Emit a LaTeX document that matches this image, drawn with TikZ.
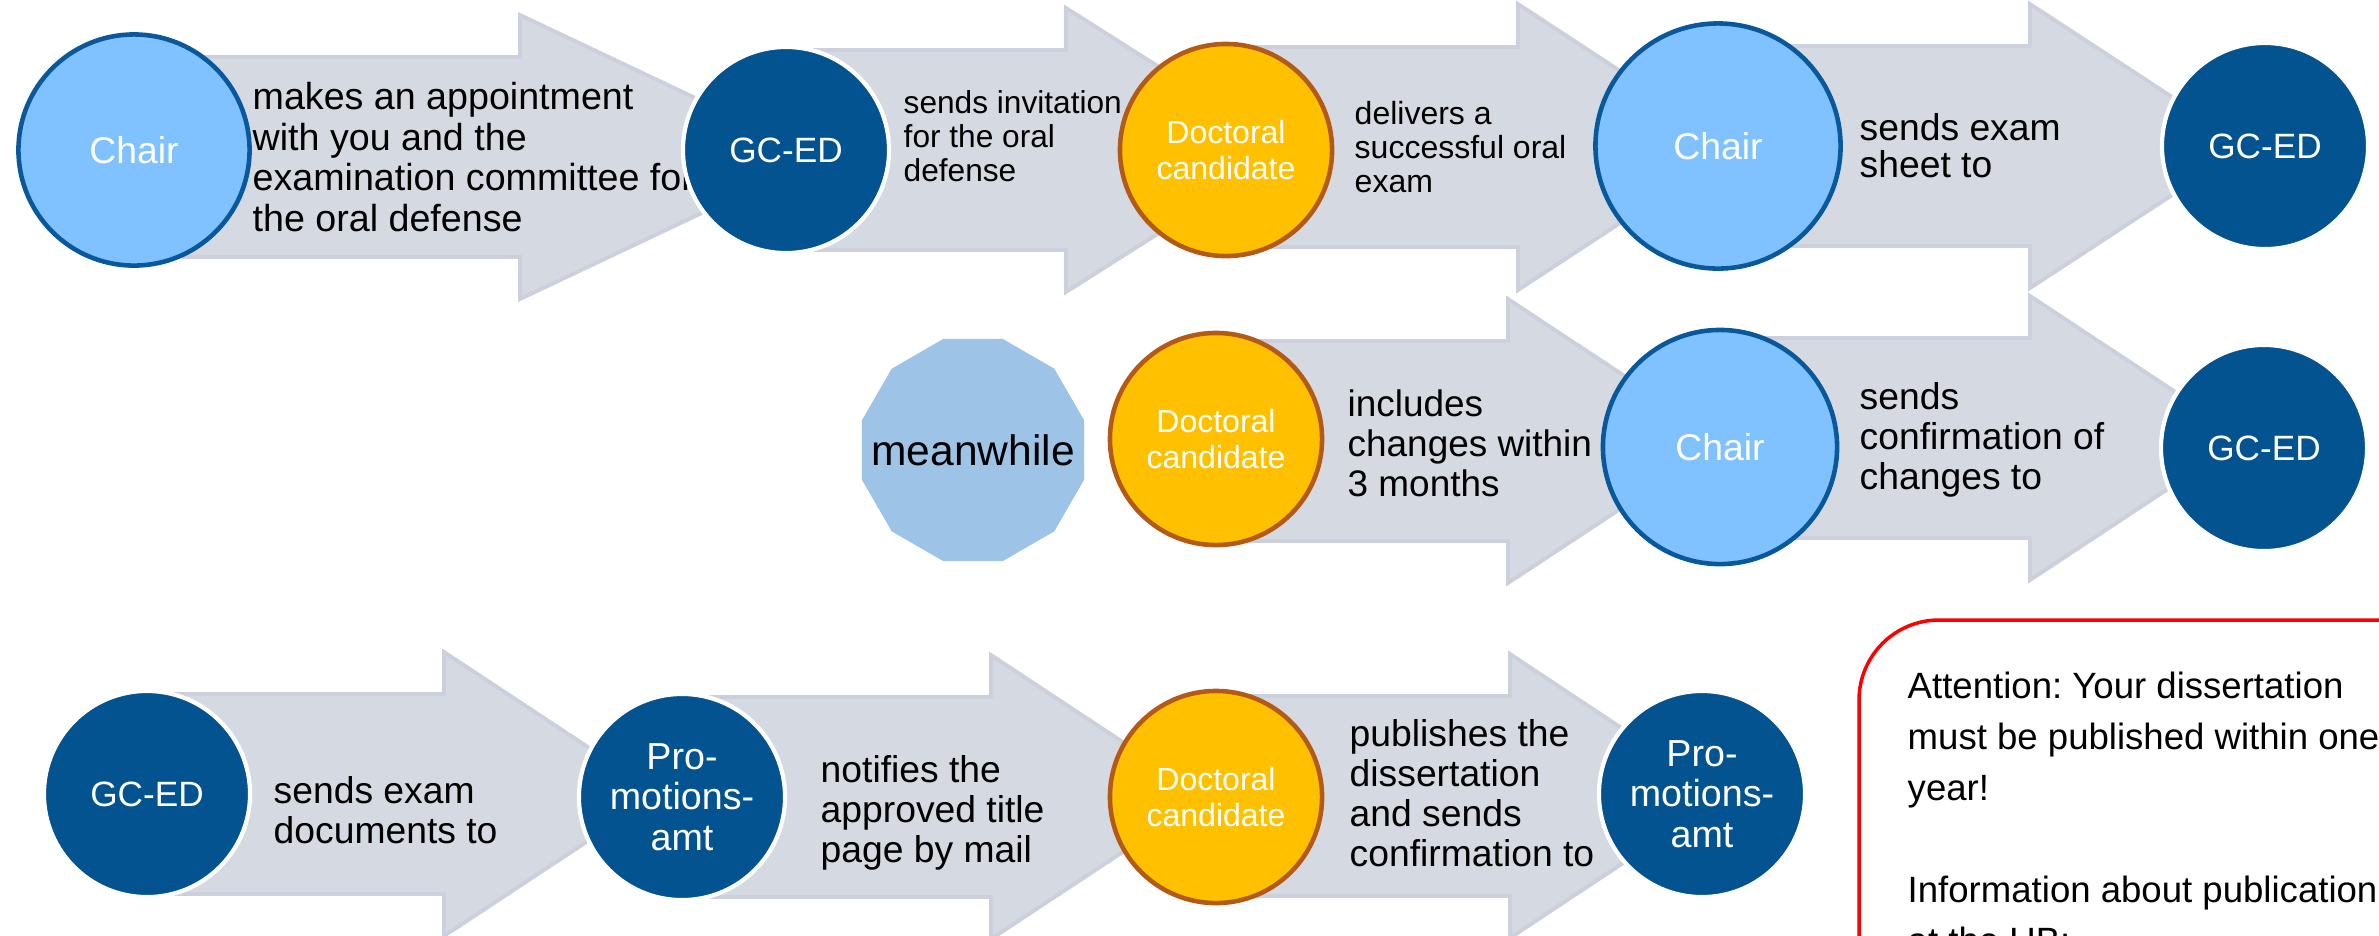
\documentclass[tikz,border=0pt]{standalone}
\usepackage{fontspec}
\setmainfont{Liberation Sans}
\frenchspacing

\definecolor{chairblue}{RGB}{128,193,255}
\definecolor{chairedge}{RGB}{8,88,155}
\definecolor{gcblue}{RGB}{3,83,145}
\definecolor{candyellow}{RGB}{255,192,0}
\definecolor{candedge}{RGB}{180,90,25}
\definecolor{arrowgray}{RGB}{213,217,225}
\definecolor{arrowedge}{RGB}{203,208,220}
\definecolor{waitblue}{RGB}{157,195,230}

\newcommand{\fsz}[2]{\fontsize{#1pt}{#2pt}\selectfont}

\begin{document}
\begin{tikzpicture}[x=0.01cm, y=-0.01cm,
    flow/.style = {fill=arrowgray, draw=arrowedge, line width=1.1pt},
    main/.style = {circle, inner sep=0pt, text=white, align=center},
    chair/.style = {main, fill=chairblue, draw=chairedge, line width=1.3pt, font=\fsz{10.6}{12}},
    gced/.style = {main, fill=gcblue, draw=white, line width=1.2pt, minimum size=2.06cm, font=\fsz{10}{12}},
    cand/.style = {main, fill=candyellow, draw=candedge, line width=1.3pt, minimum size=2.12cm, font=\fsz{9.1}{10}},
    office/.style = {gced, font=\fsz{10.7}{11.5}},
    lbl/.style = {anchor=west, align=left, inner sep=0pt, text=black}]

    \useasboundingbox (0,0) rectangle (2379,935);
    \clip (0,0) rectangle (2379,935);

    % first row
    \draw[flow] (184,57) -- (520,57) -- (520,15) -- (820,157) -- (520,299) -- (520,257) -- (184,257) -- cycle;
    \draw[flow] (800,50) -- (1066,50) -- (1066,8) -- (1290,150) -- (1066,292) -- (1066,250) -- (800,250) -- cycle;
    \draw[flow] (1230,47) -- (1518,47) -- (1518,4) -- (1736,147) -- (1518,290) -- (1518,247) -- (1230,247) -- cycle;
    \draw[flow] (1720,46) -- (2030,46) -- (2030,4) -- (2247,146) -- (2030,288) -- (2030,246) -- (1720,246) -- cycle;

    % second row
    \draw[flow] (1216,341) -- (1508,341) -- (1508,299) -- (1723,441) -- (1508,583) -- (1508,541) -- (1216,541) -- cycle;
    \draw[flow] (1720,338) -- (2030,338) -- (2030,296) -- (2245,438) -- (2030,580) -- (2030,538) -- (1720,538) -- cycle;

    % third row
    \draw[flow] (147,694) -- (444,694) -- (444,652) -- (659,794) -- (444,936) -- (444,894) -- (147,894) -- cycle;
    \draw[flow] (682,697) -- (991,697) -- (991,655) -- (1206,797) -- (991,939) -- (991,897) -- (682,897) -- cycle;
    \draw[flow] (1216,696) -- (1510,696) -- (1510,654) -- (1724,796) -- (1510,938) -- (1510,896) -- (1216,896) -- cycle;

    % texts on the arrows
    \node[lbl, font=\fsz{10.7}{11.5}] (t1) at (252,157) {makes an appointment\\with you and the\\examination committee for\\the oral defense};
    \node[lbl, font=\fsz{9}{9.7}] (t2) at (903,136) {sends invitation\\for the oral\\defense};
    \node[lbl, font=\fsz{9.1}{9.7}] (t3) at (1354,147) {delivers a\\successful oral\\exam};
    \node[lbl, font=\fsz{10.6}{10.5}] (t4) at (1859,146) {sends exam\\sheet to};
    \node[lbl, font=\fsz{10.5}{11.4}] (t5) at (1347,443) {includes\\changes within\\3 months};
    \node[lbl, font=\fsz{10.6}{11.4}] (t6) at (1859,440) {sends\\confirmation of\\changes to};
    \node[lbl, font=\fsz{10.6}{11.4}] (t7) at (273,810) {sends exam\\documents to};
    \node[lbl, font=\fsz{10.6}{11.4}] (t8) at (820,813) {notifies the\\approved title\\page by mail};
    \node[lbl, font=\fsz{10.6}{11.4}] (t9) at (1349,793) {publishes the\\dissertation\\and sends\\confirmation to};

    % actors
    \node[chair, minimum size=2.31cm] (chairA) at (134,150) {Chair};
    \node[gced] (gcedA) at (786,150) {GC-ED};
    \node[cand] (candA) at (1226,150) {Doctoral\\candidate};
    \node[chair, minimum size=2.45cm] (chairB) at (1718,146) {Chair};
    \node[gced] (gcedB) at (2265,146) {GC-ED};

    % twelve-sided patch behind "meanwhile"
    \fill[waitblue, shift={(973,450)}] (15:115) \foreach \a in {45,75,...,345} {-- (\a:115)} -- cycle;
    \node[inner sep=0pt, font=\fsz{12.1}{14}] (meanwhile) at (973,450) {meanwhile};
    \node[cand] (candB) at (1216,439) {Doctoral\\candidate};
    \node[chair, minimum size=2.34cm] (chairC) at (1720,447) {Chair};
    \node[gced] (gcedC) at (2264,448) {GC-ED};

    \node[gced] (gcedD) at (147,794) {GC-ED};
    \node[office] (promoA) at (682,797) {Pro-\\motions-\\amt};
    \node[cand] (candC) at (1216,797) {Doctoral\\candidate};
    \node[office] (promoB) at (1702,794) {Pro-\\motions-\\amt};

    % attention box
    \draw[red, line width=1pt, rounded corners=0.8cm] (1859,620) rectangle (2500,1100);
    \node[anchor=north west, align=left, inner sep=0pt, font=\fsz{10.4}{14.5}] (note) at (1907,671)
        {Attention: Your dissertation\\must be published within one\\year!\\[14.5pt]Information about publication\\at the UB:};

\end{tikzpicture}
\end{document}
